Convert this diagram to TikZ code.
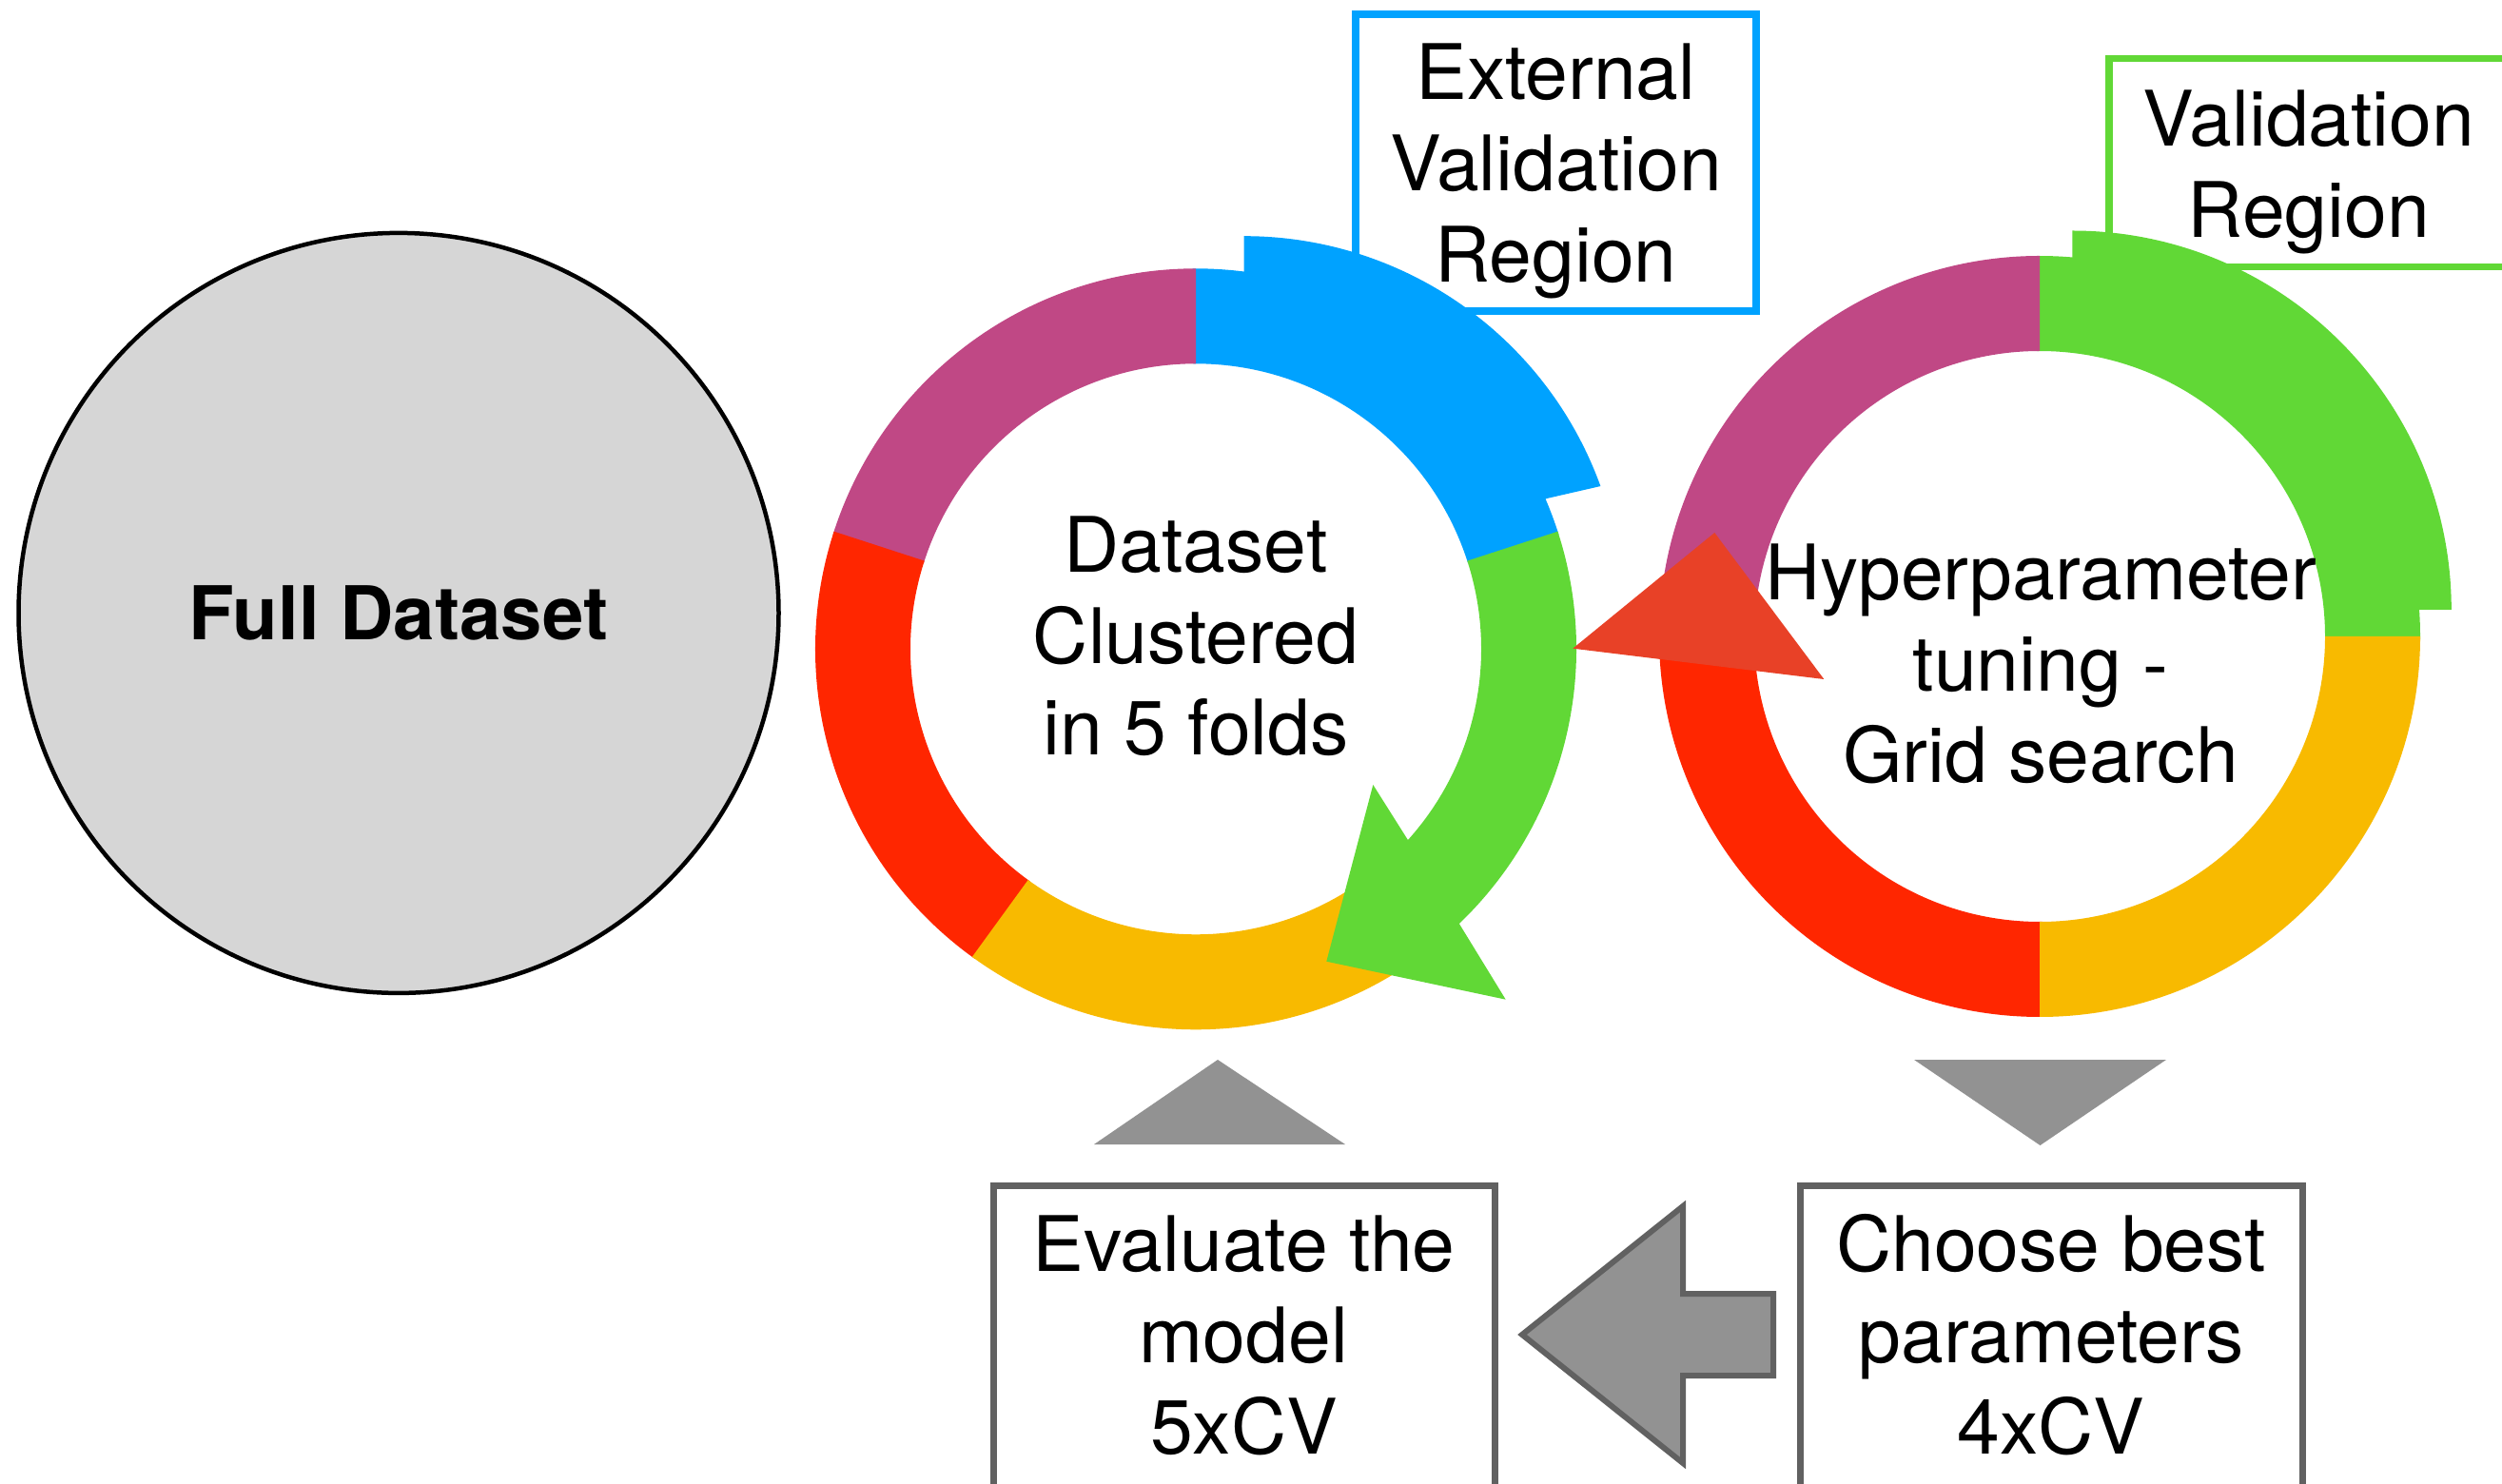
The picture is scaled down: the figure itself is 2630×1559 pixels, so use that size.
\documentclass[tikz,border=0pt]{standalone}
\usepackage{fontspec}
\setmainfont{TeX Gyre Heros}
\definecolor{foldblue}{HTML}{00A2FF}
\definecolor{foldgreen}{HTML}{61D836}
\definecolor{foldmagenta}{HTML}{C04885}
\definecolor{foldred}{HTML}{FF2600}
\definecolor{foldyellow}{HTML}{F8BA00}
\definecolor{arrowred}{HTML}{E84127}
\definecolor{arrowgray}{HTML}{929292}
\definecolor{framegray}{HTML}{616161}
\definecolor{datagray}{HTML}{D6D6D6}

% ring sector: colour, centre, start angle, end angle, outer radius, inner radius
\newcommand\ringseg[6]{%
  \fill[#1] ([shift={(#3:#5)}]#2) arc[start angle=#3,end angle=#4,radius=#5]
    -- ([shift={(#4:#6)}]#2) arc[start angle=#4,end angle=#3,radius=#6] -- cycle;}

\begin{document}
\begin{tikzpicture}[x=1pt,y=1pt,line join=miter,
  txt/.style={font=\fontsize{80.5}{96}\selectfont, align=center, inner sep=0pt, text=black},
  regionbox/.style={draw, line width=7.5pt, inner sep=0pt, rectangle},
  procbox/.style={draw=framegray, line width=7pt, inner sep=0pt, rectangle},
]
\useasboundingbox (0,0) rectangle (2630,1559);

% full dataset
\node[circle, draw, line width=4.5pt, fill=datagray, minimum size=799pt, inner sep=0pt,
      font=\fontsize{78}{96}\selectfont\bfseries] (full) at (419,914.6) {Full Dataset};

% region frames
\node[regionbox, draw=foldblue, minimum width=421pt, minimum height=312pt] (extbox) at (1635.5,1388) {};
\node[regionbox, draw=foldgreen, minimum width=423pt, minimum height=219pt] (valbox) at (2428.5,1388.2) {};

% ring centres
\coordinate (c1) at (1257,876.7);
\coordinate (c2) at (2144,890);
\coordinate (e1) at (1307.7,912.3);
\coordinate (e2) at (2178.3,918);

% outer cross-validation ring (5 folds)
\ringseg{foldblue}{c1}{17.5}{90.5}{400}{300}
\fill[foldblue] (1307.7,1200) -- ([shift={(90:398.5)}]e1)
  arc[start angle=90,end angle=19.9,radius=398.5] -- (1626,1035)
  -- ([shift={(23.2:350)}]c1) arc[start angle=23.2,end angle=80,radius=350] -- cycle;
\ringseg{foldmagenta}{c1}{90}{162.5}{400}{300}
\ringseg{foldred}{c1}{162}{234.5}{400}{300}
\ringseg{foldyellow}{c1}{234}{306}{400}{300}
\fill[foldgreen] ([shift={(18:400)}]c1) arc[start angle=18,end angle=-46.2,radius=400]
  -- (1582.7,508.3) -- (1394.3,548.3) -- (1443.3,734)
  -- ([shift={(-42:300)}]c1) arc[start angle=-42,end angle=18,radius=300] -- cycle;

% inner cross-validation ring (4 folds)
\ringseg{foldgreen}{c2}{-0.5}{90.5}{400}{300}
\fill[foldgreen] (2178.3,1230) -- ([shift={(90:398.5)}]e2)
  arc[start angle=90,end angle=0,radius=398.5] -- (2543.3,918)
  -- ([shift={(4:350)}]c2) arc[start angle=4,end angle=86,radius=350] -- cycle;
\ringseg{foldmagenta}{c2}{90}{180.5}{400}{300}
\ringseg{foldred}{c2}{180}{270.5}{400}{300}
\ringseg{foldyellow}{c2}{270}{360}{400}{300}

% arrow from the inner loop back to the outer loop
\fill[arrowred] (1653.3,877.3) -- (1802.3,999) -- (1917.3,845) -- cycle;

% labels
\node[txt] (exttxt) at (1635.5,1377.2) {\strut External\\\strut Validation\\\strut Region};
\node[txt] (valtxt) at (2427,1376.6) {\strut Validation\\\strut Region};
\node[txt] (ring1txt) at (1257,880.2) {\strut Dataset\\\strut Clustered\\\strut in 5 folds};
\node[txt] (ring2txt) at (2145,851.7) {\strut Hyperparameter\\\strut tuning -\\\strut Grid search};

% process boxes
\node[procbox, minimum width=527pt, minimum height=343pt] (evalbox) at (1307.5,141.5) {};
\node[procbox, minimum width=527.5pt, minimum height=343pt] (choosebox) at (2156.25,141.5) {};
\node[txt] (evaltxt) at (1307.5,145.7) {\strut Evaluate the\\\strut model\\\strut 5xCV};
\node[txt] (choosetxt) at (2156,145.7) {\strut Choose best\\\strut parameters\\\strut 4xCV};

% flow markers
\fill[arrowgray] (1280,445) -- (1414,356) -- (1150,356) -- cycle;
\fill[arrowgray] (2012,445) -- (2277,445) -- (2144.5,355) -- cycle;
\filldraw[fill=arrowgray, draw=framegray, line width=6pt]
  (1600,156) -- (1769,291) -- (1769,199) -- (1864,199) -- (1864,113)
  -- (1769,113) -- (1769,21) -- cycle;
\end{tikzpicture}
\end{document}
